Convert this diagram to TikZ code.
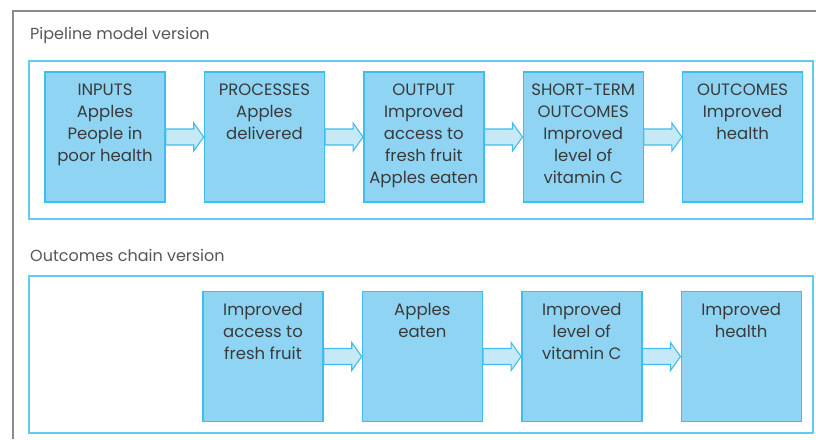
\documentclass[tikz,border=0pt]{standalone}
\usepackage{fontspec}
\setmainfont{Poppins}
\usetikzlibrary{calc,positioning}

\definecolor{boxblue}{HTML}{8FD5F3}
\definecolor{edgeblue}{HTML}{3FBDEE}
\definecolor{arrowfill}{HTML}{C6E9F8}
\definecolor{framegray}{HTML}{8A8A8A}
\definecolor{inkgray}{HTML}{3A3A3A}

\tikzset{
  stage/.style={draw=edgeblue,fill=boxblue,line width=1.4pt,minimum width=120pt,minimum height=130pt,inner sep=0pt},
  stagetext/.style={align=center,inner sep=0pt,text=inkgray,font=\fontsize{16.5}{22}\selectfont},
  heading/.style={anchor=west,inner sep=0pt,text=inkgray!85,font=\fontsize{16}{20}\selectfont},
  panel/.style={draw=edgeblue!80,line width=1.4pt},
  flow/.style={draw=edgeblue,fill=arrowfill,line width=1.1pt,line join=miter}
}

% block arrow from the right side of #1 to the left side of #2
\newcommand{\flowarrow}[2]{%
  \draw[flow] ($(#1.east)+(0,8)$) -- ($(#2.west)+(-10,8)$) -- ($(#2.west)+(-10,14)$)
    -- (#2.west) -- ($(#2.west)+(-10,-14)$) -- ($(#2.west)+(-10,-8)$)
    -- ($(#1.east)+(0,-8)$) -- cycle;}

\begin{document}
\begin{tikzpicture}[x=1pt,y=1pt]
  \useasboundingbox (0,0) rectangle (816,439);
  \fill[white] (0,0) rectangle (816,439);
  % outer frame, runs off the page
  \draw[framegray,line width=2pt] (13,0) -- (13,428) -- (816,428);

  % pipeline model
  \node[heading] (t1) at (30,404) {Pipeline model version};
  \draw[panel] (29,220) rectangle (813,378);
  \node[stage] (p1) at (105,302) {};
  \node[stage,right=38pt of p1] (p2) {};
  \node[stage,right=38pt of p2] (p3) {};
  \node[stage,right=38pt of p3] (p4) {};
  \node[stage,right=38pt of p4] (p5) {};
  \node[stagetext,below=12.5pt of p1.north] {INPUTS\\Apples\\People in\\poor health};
  \node[stagetext,below=12.5pt of p2.north] {PROCESSES\\Apples\\delivered};
  \node[stagetext,below=12.5pt of p3.north] {OUTPUT\\Improved\\access to\\fresh fruit\\Apples eaten};
  \node[stagetext,below=12.5pt of p4.north] {SHORT-TERM\\OUTCOMES\\Improved\\level of\\vitamin C};
  \node[stagetext,below=12.5pt of p5.north] {OUTCOMES\\Improved\\health};
  \flowarrow{p1}{p2}
  \flowarrow{p2}{p3}
  \flowarrow{p3}{p4}
  \flowarrow{p4}{p5}

  % outcomes chain
  \node[heading] (t2) at (30,184) {Outcomes chain version};
  \draw[panel] (29,6) rectangle (813,163);
  \node[stage] (c2) at (263,82.5) {};
  \node[stage,right=38pt of c2] (c3) {};
  \node[stage,right=38pt of c3] (c4) {};
  \node[stage,right=38pt of c4] (c5) {};
  \node[stagetext,below=12.5pt of c2.north] {Improved\\access to\\fresh fruit};
  \node[stagetext,below=12.5pt of c3.north] {Apples\\eaten};
  \node[stagetext,below=12.5pt of c4.north] {Improved\\level of\\vitamin C};
  \node[stagetext,below=12.5pt of c5.north] {Improved\\health};
  \flowarrow{c2}{c3}
  \flowarrow{c3}{c4}
  \flowarrow{c4}{c5}
\end{tikzpicture}
\end{document}
